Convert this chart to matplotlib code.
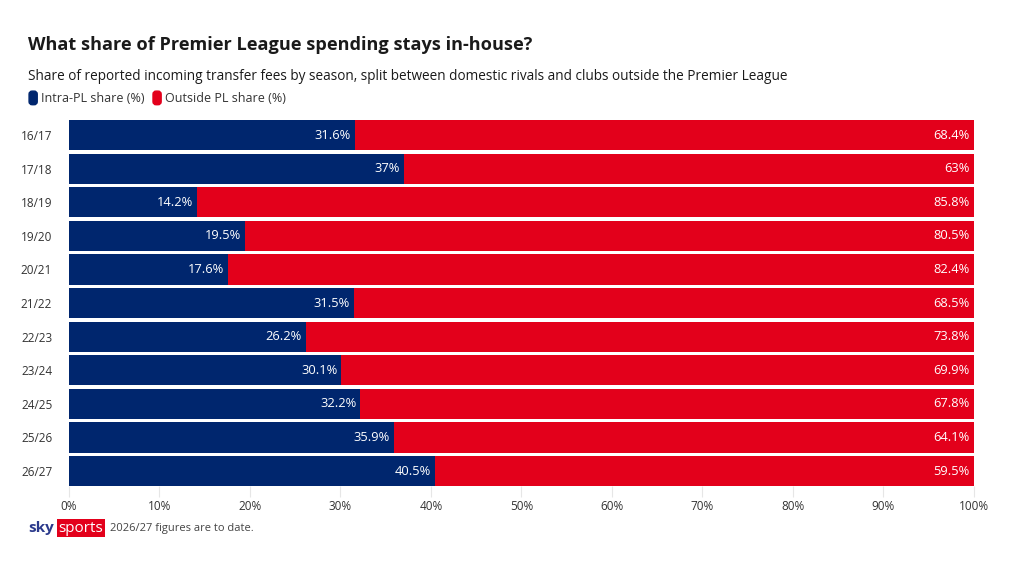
import numpy as np
import matplotlib.pyplot as plt
from matplotlib.patches import FancyBboxPatch

plt.rcParams['font.family'] = ['Open Sans', 'DejaVu Sans']

seasons = ["16/17", "17/18", "18/19", "19/20", "20/21", "21/22",
           "22/23", "23/24", "24/25", "25/26", "26/27"]
intra_pl = [31.6, 37, 14.2, 19.5, 17.6, 31.5, 26.2, 30.1, 32.2, 35.9, 40.5]
outside_pl = [68.4, 63, 85.8, 80.5, 82.4, 68.5, 73.8, 69.9, 67.8, 64.1, 59.5]
navy = "#00266E"
red = "#E3001B"

fig = plt.figure(figsize=(10.2, 5.66), dpi=100)
ax = fig.add_axes([0.0676, 0.141, 0.8873, 0.647])

y = np.arange(len(seasons))
ax.barh(y, intra_pl, height=0.9, color=navy, zorder=2)
ax.barh(y, outside_pl, left=intra_pl, height=0.9, color=red, zorder=2)
ax.set_ylim(len(seasons) - 0.55, -0.45)
ax.set_xlim(0, 100)

def fmt(v):
    return ("%g" % v) + "%"

for i in range(len(seasons)):
    ax.text(intra_pl[i] - 0.45, i, fmt(intra_pl[i]), color="white",
            ha="right", va="center", fontsize=9.3)
    ax.text(99.55, i, fmt(outside_pl[i]), color="white",
            ha="right", va="center", fontsize=9.3)

ax.set_yticks(y)
ax.set_yticklabels(seasons, fontsize=8.5, color="#333333")
ax.set_xticks(np.arange(0, 101, 10))
ax.set_xticklabels([f"{t}%" for t in range(0, 101, 10)], fontsize=8.5, color="#333333")
ax.tick_params(axis="y", length=0, pad=12)
ax.tick_params(axis="x", length=8, color="#e6e6e6", pad=2)
for s in ax.spines.values():
    s.set_visible(False)

fig.text(0.0275, 0.920, "What share of Premier League spending stays in-house?",
         fontsize=13.1, fontweight="bold", color="#1a1a1a", va="center")
fig.text(0.0275, 0.865, "Share of reported incoming transfer fees by season, split between "
         "domestic rivals and clubs outside the Premier League",
         fontsize=9.8, color="#1a1a1a", va="center")

# legend
for x0, col, lab in [(0.0285, navy, "Intra-PL share (%)"), (0.150, red, "Outside PL share (%)")]:
    fig.patches.append(FancyBboxPatch((x0, 0.815), 0.008, 0.024, boxstyle="round,pad=0,rounding_size=0.003",
                                      transform=fig.transFigure, color=col, mutation_aspect=1.8))
    fig.text(x0 + 0.0115, 0.826, lab, fontsize=9, color="#333333", va="center")

# footer logo
fig.text(0.0275, 0.067, "sky", fontsize=11, fontweight="bold", color="#2b3a8c", va="center")
fig.text(0.0575, 0.067, "sports", fontsize=11, color="white", va="center",
         bbox=dict(boxstyle="square,pad=0.1", fc=red, ec="none"))
fig.text(0.108, 0.067, "2026/27 figures are to date.", fontsize=8, color="#444444", va="center")

fig.savefig("out.png", dpi=100)
